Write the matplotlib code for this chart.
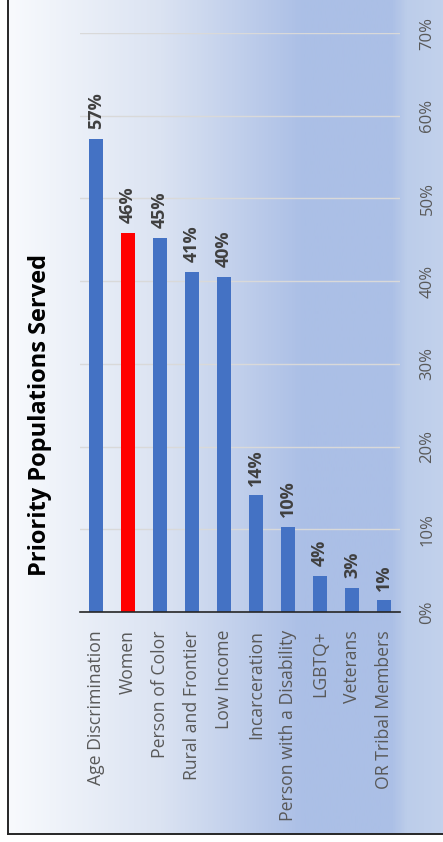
import numpy as np
import matplotlib
matplotlib.use("Agg")
from matplotlib import pyplot as plt
from matplotlib.colors import LinearSegmentedColormap
from matplotlib.lines import Line2D

plt.rcParams["font.family"] = ["Open Sans", "DejaVu Sans"]

categories = ["Age Discrimination", "Women", "Person of Color", "Rural and Frontier",
              "Low Income", "Incarceration", "Person with a Disability", "LGBTQ+",
              "Veterans", "OR Tribal Members"]
values = [57.2, 45.8, 45.2, 41.1, 40.5, 14.1, 10.3, 4.4, 2.9, 1.4]
highlight = "Women"
yticks = [0, 10, 20, 30, 40, 50, 60, 70]
title = "Priority Populations Served"

W, H = 443, 842
fig = plt.figure(figsize=(W / 100, H / 100), dpi=100)

# background: white -> light blue gradient inside the frame
bg = fig.add_axes([8 / W, 8 / H, 1 - 8 / W, 1 - 8 / H], zorder=0)
cmap = LinearSegmentedColormap.from_list(
    "bg", [(0.0, "#f8fafd"), (0.35, "#dbe3f2"), (0.68, "#abbfe6"),
           (0.885, "#abbfe6"), (0.92, "#bccdea"), (1.0, "#c2d1ec")])
bg.imshow(np.linspace(0, 1, 400)[None, :], cmap=cmap, aspect="auto",
          extent=[0, 1, 0, 1])
bg.set_axis_off()

# frame (left and bottom edges visible)
fig.add_artist(Line2D([8 / W, 8 / W], [8 / H, 1], color="#262626", lw=1.4))
fig.add_artist(Line2D([8 / W, 1], [8 / H, 8 / H], color="#262626", lw=1.4))

ax = fig.add_axes([80 / W, (H - 612) / H, 320 / W, 579 / H], zorder=1)
ax.set_facecolor("none")

x = np.arange(len(categories))
colors = ["#ff0000" if c == highlight else "#4472c4" for c in categories]
bars = ax.bar(x, values, width=0.42, color=colors, zorder=3)

for xi, v in zip(x, values):
    ax.annotate(f"{v:.0f}%", (xi, v), xytext=(0, 7), textcoords="offset points",
                rotation=90, ha="center", va="bottom", fontsize=13,
                fontweight="bold", color="#404040")

ax.set_xlim(-0.5, len(categories) - 0.5)
ax.set_ylim(0, 70)
ax.set_yticks(yticks)
ax.set_yticklabels([f"{t}%" for t in yticks])
ax.yaxis.tick_right()
ax.tick_params(axis="y", length=0, pad=14, labelrotation=90, labelsize=12,
               labelcolor="#595959")
for lab in ax.get_yticklabels():
    lab.set_va("center")
ax.set_xticks(x)
ax.set_xticklabels(categories)
ax.tick_params(axis="x", length=0, pad=13, labelrotation=90, labelsize=12.7,
               labelcolor="#595959")

ax.grid(axis="y", color="#d9d9d9", lw=1, zorder=1)
for s in ["top", "right", "left"]:
    ax.spines[s].set_visible(False)
ax.spines["bottom"].set_color("#262626")
ax.spines["bottom"].set_linewidth(1.2)
ax.spines["bottom"].set_zorder(4)

fig.text(40 / W, 1 - 415 / H, title, rotation=90, ha="center", va="center",
         fontsize=17, fontweight="bold", color="black")

fig.savefig("out.png", dpi=100)
